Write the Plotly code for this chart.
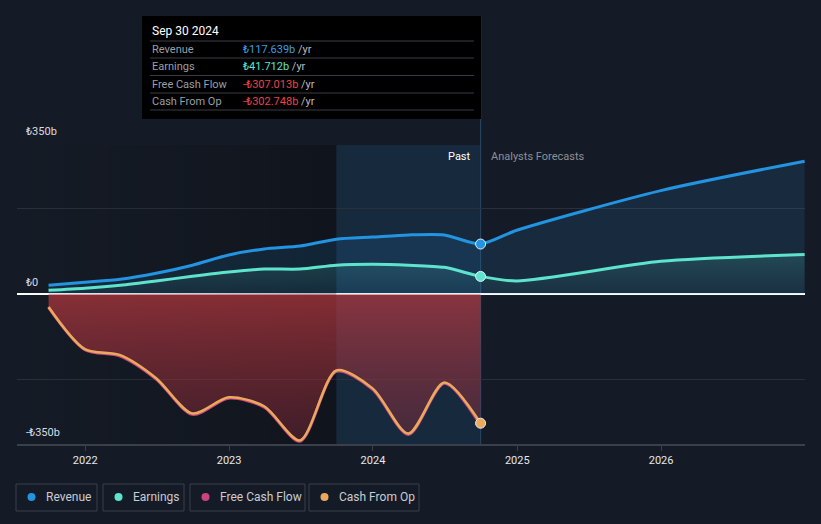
import plotly.graph_objects as go

# ---------------- data (₺ billions) ----------------
past_dates = ["2021-09-30", "2021-12-31", "2022-03-31", "2022-06-30", "2022-09-30",
              "2022-12-31", "2023-03-31", "2023-06-30", "2023-09-30", "2023-12-31",
              "2024-03-31", "2024-06-30", "2024-09-30"]
revenue_past = [21, 28, 35, 49, 68, 92, 106, 113, 129, 134, 139, 139, 117.639]
earnings_past = [9, 14, 21, 31, 42, 52, 59, 59, 68, 70, 68, 63, 41.712]
cfo_past = [-30, -129, -143, -197, -280, -242, -263, -343, -179, -221, -327, -207, -302.748]
fcf_past = [-31, -130, -145, -199, -282, -244, -265, -345, -181, -223, -329, -209, -307.013]

fc_dates = ["2024-09-30", "2024-12-31", "2025-12-31", "2026-12-31"]
revenue_fc = [117.639, 150, 243, 312]
earnings_fc = [41.712, 31, 77, 93]

tick_years = ["2022", "2023", "2024", "2025", "2026"]
y_labels = ["₺350b", "₺0", "-₺350b"]
y_label_vals = [350, 0, -350]

# ---------------- colors ----------------
BG = "#151b26"
C_REV = "#2394e1"
C_EARN = "#5ee3cd"
C_FCF = "#c8457f"
C_CFO = "#eaaa5c"
GRID = "#2a303b"

W, H = 821, 524
L, R, T, B = 17, 16, 145, 80
PW, PH = W - L - R, H - T - B


def px(x):
    return (x - L) / PW


def py(y):
    return (H - B - y) / PH


fig = go.Figure()

# dark past gradient
fig.add_trace(go.Scatter(
    x=["2021-07-12", "2023-09-30", "2023-09-30", "2021-07-12", "2021-07-12"],
    y=[-351.5, -351.5, 350, 350, -351.5], mode="lines", line=dict(width=0),
    fill="toself",
    fillgradient=dict(type="horizontal",
                      colorscale=[[0, "rgba(0,0,0,0.0)"], [1, "rgba(0,0,0,0.25)"]]),
    hoverinfo="skip", showlegend=False))

# revenue
fig.add_trace(go.Scatter(x=past_dates + fc_dates[1:], y=revenue_past + revenue_fc[1:],
                         mode="lines", line=dict(color=C_REV, width=3, shape="spline", smoothing=0.7),
                         fill="tozeroy", fillcolor="rgba(35,148,225,0.13)",
                         hoverinfo="skip", showlegend=False))
# earnings
fig.add_trace(go.Scatter(x=past_dates + fc_dates[1:], y=earnings_past + earnings_fc[1:],
                         mode="lines", line=dict(color=C_EARN, width=3, shape="spline", smoothing=0.7),
                         fill="tozeroy",
                         fillgradient=dict(type="vertical",
                                           colorscale=[[0, "rgba(94,227,205,0.03)"], [1, "rgba(94,227,205,0.17)"]],
                                           start=0, stop=95),
                         hoverinfo="skip", showlegend=False))
# free cash flow
fig.add_trace(go.Scatter(x=past_dates, y=fcf_past, mode="lines",
                         line=dict(color=C_FCF, width=3, shape="spline", smoothing=0.8),
                         fill="tozeroy",
                         fillgradient=dict(type="vertical",
                                           colorscale=[[0, "rgba(150,45,60,0.35)"], [1, "rgba(205,60,65,0.62)"]],
                                           start=-350, stop=0),
                         hoverinfo="skip", showlegend=False))
# cash from op
fig.add_trace(go.Scatter(x=past_dates, y=cfo_past, mode="lines",
                         line=dict(color=C_CFO, width=2.5, shape="spline", smoothing=0.8),
                         hoverinfo="skip", showlegend=False))

# end-point markers
fig.add_trace(go.Scatter(x=[past_dates[-1]] * 3,
                         y=[revenue_past[-1], earnings_past[-1], cfo_past[-1]],
                         mode="markers",
                         marker=dict(size=10, color=[C_REV, C_EARN, C_CFO],
                                     line=dict(color="#e8eef5", width=1)),
                         hoverinfo="skip", showlegend=False))

shapes = []
# last-year highlight band
shapes.append(dict(type="rect", xref="x", yref="paper", x0="2023-09-30", x1="2024-09-30",
                   y0=0, y1=1, fillcolor="rgba(30,110,180,0.17)", line=dict(width=0), layer="below"))
# vertical line at latest point (inside plot, under traces)
shapes.append(dict(type="line", xref="x", yref="paper", x0="2024-09-30", x1="2024-09-30",
                   y0=0, y1=1, line=dict(color="#24415e", width=1.2), layer="below"))
# vertical line above plot area, up to tooltip
shapes.append(dict(type="line", xref="x", yref="paper", x0="2024-09-30", x1="2024-09-30",
                   y0=1, y1=py(16), line=dict(color="#24415e", width=1.2)))
# tooltip box
shapes.append(dict(type="rect", xref="paper", yref="paper", x0=px(142), x1=px(481),
                   y0=py(119), y1=py(16), fillcolor="#000000", line=dict(width=0)))
for yy in [41, 58, 75.5, 93, 110]:
    shapes.append(dict(type="line", xref="paper", yref="paper", x0=px(150), x1=px(474),
                       y0=py(yy), y1=py(yy), line=dict(color="#3a3d44", width=1)))

annotations = []
annotations.append(dict(xref="paper", yref="paper", x=px(150), y=py(31), text="Sep 30 2024",
                        showarrow=False, xanchor="left", yanchor="middle",
                        font=dict(color="#ffffff", size=12)))
rows = [("Revenue", "₺117.639b", "#3a9ee6"),
        ("Earnings", "₺41.712b", C_EARN),
        ("Free Cash Flow", "-₺307.013b", "#e8434b"),
        ("Cash From Op", "-₺302.748b", "#e8434b")]
for i, (lab, val, col) in enumerate(rows):
    yc = 49.5 + i * 17.3
    annotations.append(dict(xref="paper", yref="paper", x=px(150), y=py(yc), text=lab,
                            showarrow=False, xanchor="left", yanchor="middle",
                            font=dict(color="#9a9ea6", size=11)))
    annotations.append(dict(xref="paper", yref="paper", x=px(241), y=py(yc),
                            text=f"<span style='color:{col}'>{val}</span> /yr",
                            showarrow=False, xanchor="left", yanchor="middle",
                            font=dict(color="#b8bcc4", size=11)))

# y labels
for lab, yy in zip(y_labels, [131, 282, 432]):
    annotations.append(dict(xref="paper", yref="paper", x=px(24), y=py(yy), text=lab,
                            showarrow=False, xanchor="left", yanchor="middle",
                            font=dict(color="#d8dbe0", size=11)))

annotations.append(dict(xref="paper", yref="paper", x=px(473), y=py(156), text="Past",
                        showarrow=False, xanchor="right", yanchor="middle",
                        font=dict(color="#ffffff", size=11)))
annotations.append(dict(xref="paper", yref="paper", x=px(489), y=py(156), text="Analysts Forecasts",
                        showarrow=False, xanchor="left", yanchor="middle",
                        font=dict(color="#8b9099", size=11)))

# legend
legend_items = [("Revenue", C_REV, 16, 97), ("Earnings", C_EARN, 103, 184),
                ("Free Cash Flow", C_FCF, 190, 305), ("Cash From Op", C_CFO, 309, 419)]
for lab, col, x0, x1 in legend_items:
    shapes.append(dict(type="rect", xref="paper", yref="paper", x0=px(x0), x1=px(x1),
                       y0=py(511), y1=py(484), fillcolor=BG, line=dict(color="#3b404b", width=1)))
    shapes.append(dict(type="circle", xref="paper", yref="paper", x0=px(x0 + 11.5), x1=px(x0 + 19.5),
                       y0=py(501), y1=py(493), fillcolor=col, line=dict(width=0)))
    annotations.append(dict(xref="paper", yref="paper", x=px(x0 + 28), y=py(497), text=lab,
                            showarrow=False, xanchor="left", yanchor="middle",
                            font=dict(color="#c9ccd2", size=12)))

fig.update_layout(
    width=W, height=H,
    margin=dict(l=L, r=R, t=T, b=B),
    paper_bgcolor=BG, plot_bgcolor=BG,
    font=dict(family="Roboto, 'Open Sans', sans-serif"),
    showlegend=False, hovermode=False,
    shapes=shapes, annotations=annotations,
    xaxis=dict(type="date", range=["2021-07-12", "2027-01-01"],
               tickvals=[f"{y}-01-01" for y in tick_years], ticktext=tick_years,
               ticks="outside", ticklen=5, tickcolor="#3a3f4a",
               tickfont=dict(color="#e6e8eb", size=11),
               showgrid=False, showline=True, linecolor="#3a3f4a", linewidth=1.5,
               zeroline=False, fixedrange=True),
    yaxis=dict(range=[-351.5, 350], tickvals=[-200, 200, 350], showticklabels=False,
               showgrid=True, gridcolor=GRID, gridwidth=1,
               zeroline=True, zerolinecolor="#ffffff", zerolinewidth=1.5,
               showline=False, fixedrange=True),
)

fig.write_html("out.html", config={"displayModeBar": False},
               post_script="document.body.style.margin='0';document.body.style.background='#151b26';")
